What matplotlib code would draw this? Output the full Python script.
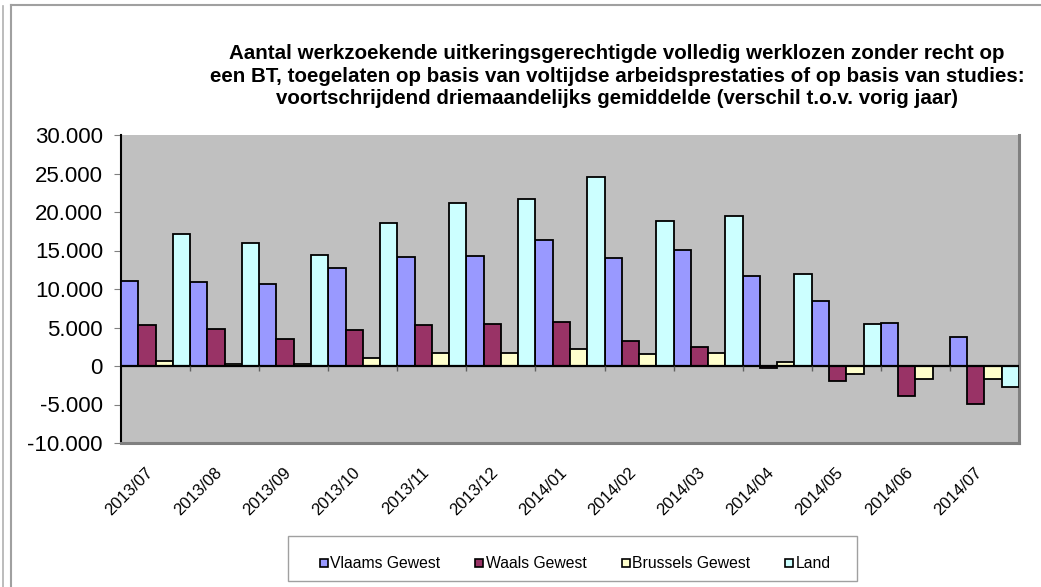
import matplotlib.pyplot as plt
import matplotlib.lines as mlines
import matplotlib.patches as mpatches
import numpy as np

months = ["2013/07", "2013/08", "2013/09", "2013/10", "2013/11", "2013/12", "2014/01",
          "2014/02", "2014/03", "2014/04", "2014/05", "2014/06", "2014/07"]
vlaams = [11100, 10850, 10650, 12750, 14150, 14350, 16400, 14000, 15050, 11650, 8400, 5550, 3800]
waals = [5350, 4800, 3550, 4700, 5300, 5450, 5750, 3200, 2500, -200, -2000, -3850, -4900]
brussels = [650, 250, 200, 1050, 1700, 1750, 2200, 1550, 1750, 500, -1100, -1750, -1650]
land = [17200, 15950, 14400, 18600, 21200, 21700, 24550, 18800, 19450, 12000, 5400, 50, -2700]
series = ["Vlaams Gewest", "Waals Gewest", "Brussels Gewest", "Land"]
colors = ["#9999FF", "#993366", "#FFFFCC", "#CCFFFF"]

plt.rcParams['font.family'] = ['Liberation Sans', 'DejaVu Sans']

fig = plt.figure(figsize=(10.41, 5.87), dpi=100)
ax = fig.add_axes([121 / 1041, 1 - 443 / 587, 898 / 1041, 308 / 587])
ax.set_facecolor("#C0C0C0")

x = np.arange(len(months))
w = 0.25
handles = []
for i, (vals, col, name) in enumerate(zip([vlaams, waals, brussels, land], colors, series)):
    ax.bar(x + (i - 1.5) * w, vals, width=w, color=col, edgecolor="black",
           linewidth=1.3, label=name, zorder=3)
    handles.append(mlines.Line2D([], [], marker="s", linestyle="none", markersize=6,
                                 markerfacecolor=col, markeredgecolor="black",
                                 markeredgewidth=1.2, label=name))

ax.set_xlim(-0.5, len(months) - 0.5)
ax.set_ylim(-10000, 30000)
ax.set_yticks(range(-10000, 30001, 5000))
ax.set_yticklabels([f"{v:,}".replace(",", ".") for v in range(-10000, 30001, 5000)], fontsize=16)
ax.tick_params(axis="y", direction="out", length=5, color="#808080", pad=8)

# zero line with category boundary ticks
ax.axhline(0, color="black", linewidth=1.6, zorder=4)
ax.vlines(x[:-1] + 0.5, -700, 0, color="#606060", linewidth=1, zorder=4)

ax.set_xticks(x)
ax.set_xticklabels(months, rotation=45, ha="right", va="top", fontsize=12)
ax.tick_params(axis="x", length=0, pad=16)

for s in ["right", "bottom"]:
    ax.spines[s].set_color("#808080")
    ax.spines[s].set_linewidth(2.2)
ax.spines["top"].set_visible(False)
ax.spines["left"].set_color("black")
ax.spines["left"].set_linewidth(1.5)

title = ("Aantal werkzoekende uitkeringsgerechtigde volledig werklozen zonder recht op\n"
         "een BT, toegelaten op basis van voltijdse arbeidsprestaties of op basis van studies:\n"
         "voortschrijdend driemaandelijks gemiddelde (verschil t.o.v. vorig jaar)")
fig.text(617 / 1041, 1 - 76 / 587, title, ha="center", va="center", fontsize=14.8,
         fontweight="bold", linespacing=1.22)

# legend box
fig.add_artist(mpatches.Rectangle((288 / 1041, 1 - 581 / 587), 569 / 1041, 45 / 587,
                                  transform=fig.transFigure, facecolor="white",
                                  edgecolor="#A0A0A0", linewidth=1))
leg = fig.legend(handles=handles, loc="center left", bbox_to_anchor=(319 / 1041, 1 - 564 / 587),
                 ncol=4, fontsize=11.3, frameon=False, handlelength=0.6, borderpad=0,
                 borderaxespad=0, handletextpad=0.1, columnspacing=2.2)

# outer chart frame
fig.add_artist(mlines.Line2D([11 / 1041, 11 / 1041], [0, 1 - 5 / 587], color="#A0A0A0", linewidth=1.5))
fig.add_artist(mlines.Line2D([11 / 1041, 1], [1 - 5 / 587, 1 - 5 / 587], color="#A0A0A0", linewidth=1.5))
fig.add_artist(mlines.Line2D([3 / 1041, 3 / 1041], [0, 1 - 6 / 587], color="#B0B0B0", linewidth=1.2))

fig.savefig("out.png", dpi=100)
